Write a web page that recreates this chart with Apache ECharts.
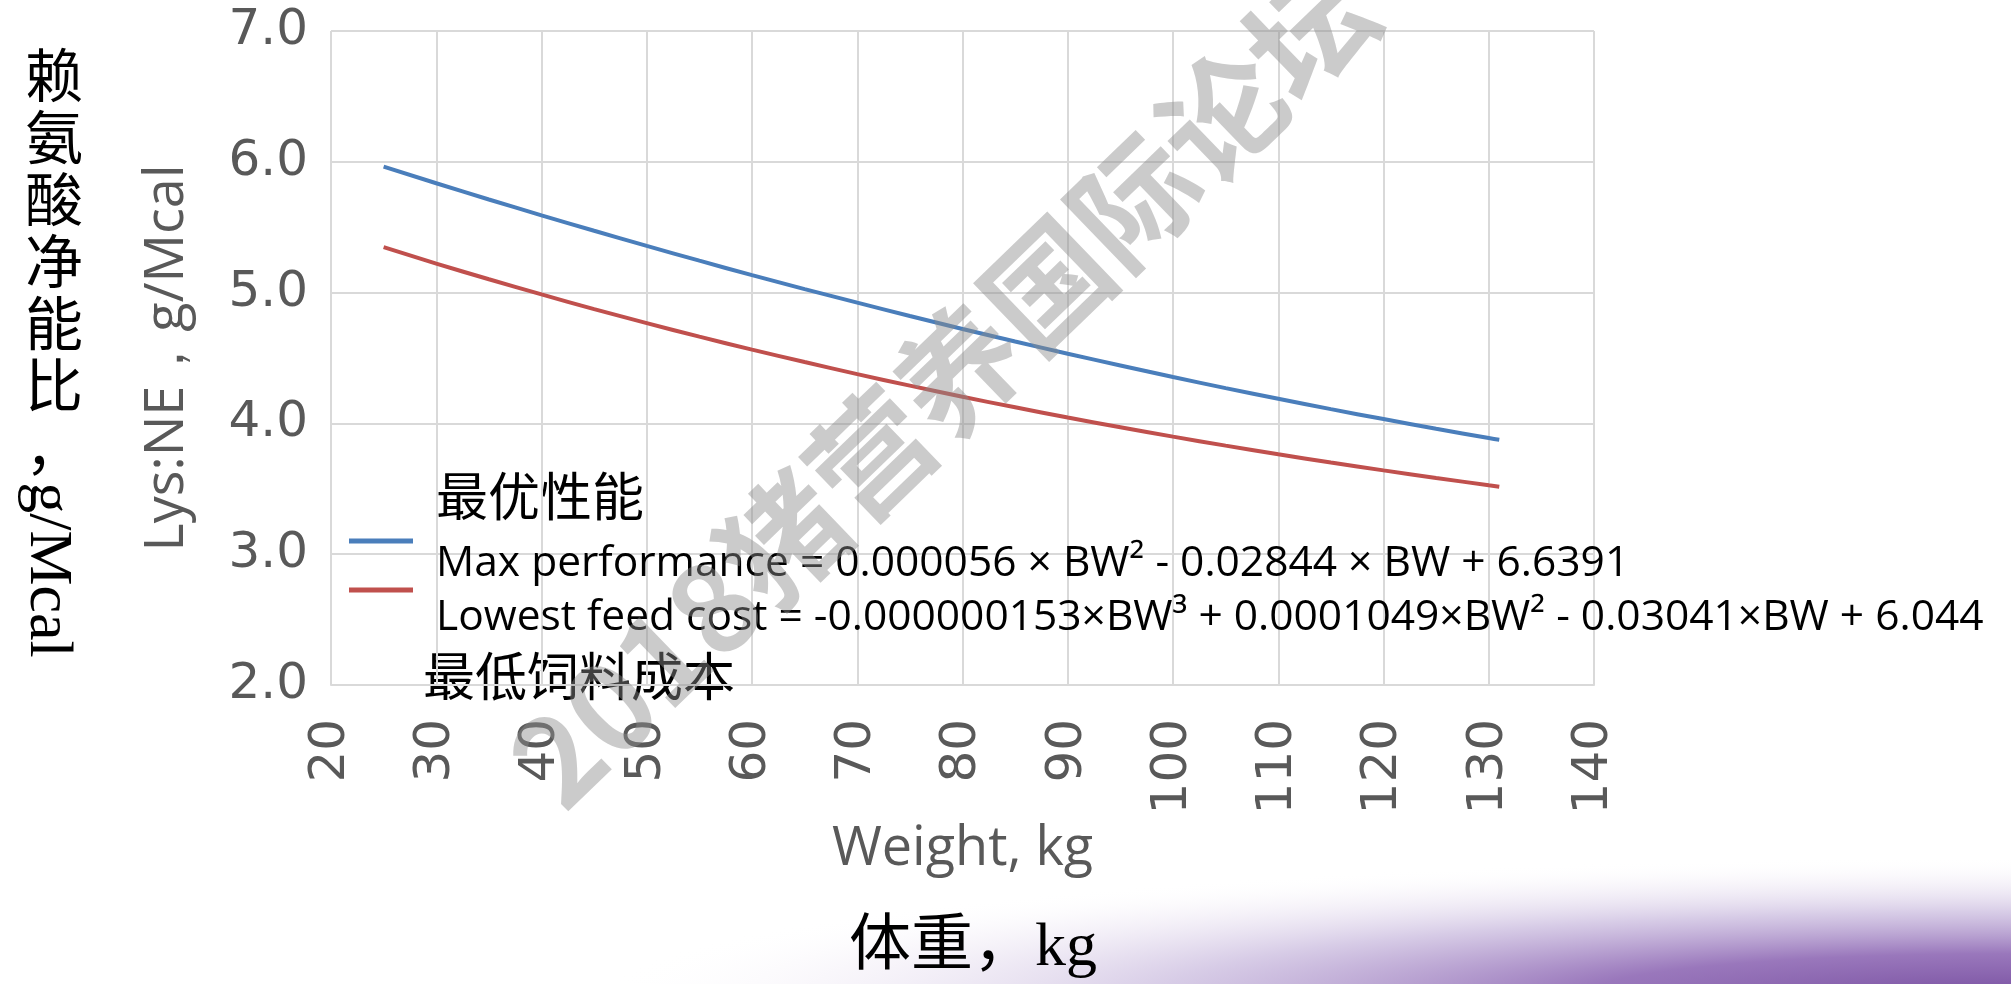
<!DOCTYPE html>
<html>
<head>
<meta charset="utf-8">
<script src="https://cdn.jsdelivr.net/npm/echarts@6/dist/echarts.min.js"></script>
<style>
  html, body { margin: 0; padding: 0; background: #ffffff; }
  #chart { width: 2011px; height: 984px; }
</style>
</head>
<body>
<div id="chart"></div>
<script>
// Body weight (kg) at which the two lysine:NE curves are sampled
const bodyWeightKg = [25, 30, 35, 40, 45, 50, 55, 60, 65, 70, 75, 80, 85, 90, 95, 100, 105, 110, 115, 120, 125, 130, 131];

// Lys:NE, g/Mcal — maximum performance
const maxPerformance = [5.963, 5.836, 5.712, 5.591, 5.473, 5.357, 5.244, 5.134, 5.027, 4.923, 4.821, 4.722, 4.626, 4.533, 4.443, 4.355, 4.270, 4.188, 4.109, 4.033, 3.959, 3.888, 3.875];

// Lys:NE, g/Mcal — lowest feed cost
const lowestFeedCost = [5.347, 5.222, 5.102, 4.986, 4.874, 4.767, 4.663, 4.564, 4.469, 4.377, 4.289, 4.204, 4.123, 4.045, 3.971, 3.899, 3.830, 3.764, 3.701, 3.641, 3.583, 3.527, 3.516];

const seriesNames = ['最优性能', '最低饲料成本'];
const equationLabels = [
  'Max performance = 0.000056 × BW² - 0.02844 × BW + 6.6391',
  'Lowest feed cost = -0.000000153×BW³ + 0.0001049×BW² - 0.03041×BW + 6.044'
];

// Axis ranges and tick steps
const xRange = [20, 140];
const xStep = 10;
const yRange = [2, 7];
const yStep = 1;

const axisTitles = {
  x: 'Weight, kg',
  y: 'Lys:NE，g/Mcal',
  xCn: '体重，kg',
  yCn: '赖氨酸净能比，',
  yCnUnit: 'g/Mcal'
};
const watermarkText = '2018猪营养国际论坛';

const colors = ['#4a7ebb', '#c0504d'];
const tickColor = '#595959';
const gridColor = '#d9d9d9';
const eqFont = '"Open Sans", sans-serif';
const cnFont = '"Noto Sans CJK SC", sans-serif';

const chart = echarts.init(document.getElementById('chart'), null, { renderer: 'canvas' });

// One legend per series so each equation can sit at its own offset below the swatch
function legendFor(idx, top, dropBy) {
  return {
    data: [seriesNames[idx]],
    left: 349,
    top: top,
    padding: 0,
    orient: 'vertical',
    icon: 'rect',
    itemWidth: 64,
    itemHeight: 5,
    selectedMode: false,
    formatter: () => '{s| }\n{t|' + equationLabels[idx] + '}',
    textStyle: {
      color: '#000000',
      rich: {
        s: { fontSize: 10, lineHeight: dropBy * 2 },
        t: { fontFamily: eqFont, fontSize: 42.5, lineHeight: 56, color: '#000000', padding: [0, 0, 0, 18] }
      }
    }
  };
}

const option = {
  backgroundColor: '#ffffff',
  animation: false,
  grid: { left: 331, right: 417, top: 31, bottom: 299, containLabel: false },
  xAxis: {
    type: 'value',
    min: xRange[0],
    max: xRange[1],
    interval: xStep,
    name: axisTitles.x,
    nameLocation: 'middle',
    nameGap: 138,
    nameTextStyle: { fontFamily: '"Open Sans", sans-serif', fontSize: 54, color: tickColor },
    axisLine: { show: true, lineStyle: { color: gridColor, width: 2 } },
    axisTick: { show: false },
    splitLine: { show: true, lineStyle: { color: gridColor, width: 2 } },
    axisLabel: {
      rotate: 90,
      margin: 34,
      fontFamily: '"DejaVu Sans", sans-serif',
      fontSize: 50,
      color: tickColor
    }
  },
  yAxis: {
    type: 'value',
    min: yRange[0],
    max: yRange[1],
    interval: yStep,
    name: axisTitles.y,
    nameLocation: 'middle',
    nameGap: 136,
    nameRotate: 90,
    nameTextStyle: { fontFamily: '"Open Sans", sans-serif', fontSize: 54, color: tickColor },
    axisLine: { show: false },
    axisTick: { show: false },
    splitLine: { show: true, lineStyle: { color: gridColor, width: 2 } },
    axisLabel: {
      margin: 23,
      fontFamily: '"DejaVu Sans", sans-serif',
      fontSize: 50,
      color: tickColor,
      formatter: v => v.toFixed(1)
    }
  },
  legend: [legendFor(0, 508, 23), legendFor(1, 557, 28)],
  series: [
    {
      name: seriesNames[0],
      type: 'line',
      data: bodyWeightKg.map((w, i) => [w, maxPerformance[i]]),
      smooth: true,
      showSymbol: false,
      lineStyle: { color: colors[0], width: 4 },
      itemStyle: { color: colors[0] },
      z: 3
    },
    {
      name: seriesNames[1],
      type: 'line',
      data: bodyWeightKg.map((w, i) => [w, lowestFeedCost[i]]),
      smooth: true,
      showSymbol: false,
      lineStyle: { color: colors[1], width: 4 },
      itemStyle: { color: colors[1] },
      z: 3
    }
  ],
  graphic: [
    // slide footer band fading in toward the bottom-right corner
    {
      type: 'rect',
      z: -10,
      x: 0, y: 846,
      scaleY: 138 / 1411,
      shape: { x: 600, y: 0, width: 1411, height: 1411 },
      style: {
        fill: new echarts.graphic.RadialGradient(1.0, 1.08, 1.0, [
          { offset: 0, color: 'rgba(122,82,162,1)' },
          { offset: 0.3, color: 'rgba(148,112,184,0.95)' },
          { offset: 0.6, color: 'rgba(198,182,220,0.7)' },
          { offset: 0.85, color: 'rgba(235,228,242,0.3)' },
          { offset: 1, color: 'rgba(255,255,255,0)' }
        ])
      },
      silent: true
    },
    // Chinese y-axis title, stacked vertically
    {
      type: 'text',
      x: 54, y: 44,
      style: {
        text: axisTitles.yCn.split('').join('\n'),
        fontFamily: cnFont,
        fontSize: 58,
        lineHeight: 62,
        fill: '#000000',
        align: 'center', textAlign: 'center',
        verticalAlign: 'top', textVerticalAlign: 'top'
      },
      silent: true
    },
    {
      type: 'text',
      x: 47, y: 570,
      rotation: -Math.PI / 2,
      style: {
        text: axisTitles.yCnUnit,
        fontFamily: '"Liberation Serif", serif',
        fontSize: 62,
        fill: '#000000',
        align: 'center', textAlign: 'center',
        verticalAlign: 'middle', textVerticalAlign: 'middle'
      },
      silent: true
    },
    // Chinese x-axis title
    {
      type: 'text',
      x: 973, y: 949,
      style: {
        text: axisTitles.xCn,
        fontFamily: '"Liberation Serif", "Noto Sans CJK SC", serif',
        fontSize: 62,
        fill: '#000000',
        align: 'center', textAlign: 'center',
        verticalAlign: 'middle', textVerticalAlign: 'middle'
      },
      silent: true
    },
    // Chinese series names beside the legend
    {
      type: 'text',
      x: 436, y: 496,
      style: {
        text: seriesNames[0],
        fontFamily: cnFont,
        fontSize: 52,
        fill: '#000000',
        align: 'left', textAlign: 'left',
        verticalAlign: 'middle', textVerticalAlign: 'middle'
      },
      silent: true
    },
    {
      type: 'text',
      x: 423, y: 676,
      style: {
        text: seriesNames[1],
        fontFamily: cnFont,
        fontSize: 52,
        fill: '#000000',
        align: 'left', textAlign: 'left',
        verticalAlign: 'middle', textVerticalAlign: 'middle'
      },
      silent: true
    },
    // event watermark across the plot
    {
      type: 'text',
      x: 943, y: 385,
      rotation: 44 * Math.PI / 180,
      z: 100,
      style: {
        text: watermarkText,
        fontFamily: cnFont,
        fontWeight: 'bold',
        fontSize: 122,
        fill: 'rgba(140,140,140,0.45)',
        align: 'center', textAlign: 'center',
        verticalAlign: 'middle', textVerticalAlign: 'middle'
      },
      silent: true
    }
  ]
};

chart.setOption(option);
</script>
</body>
</html>
